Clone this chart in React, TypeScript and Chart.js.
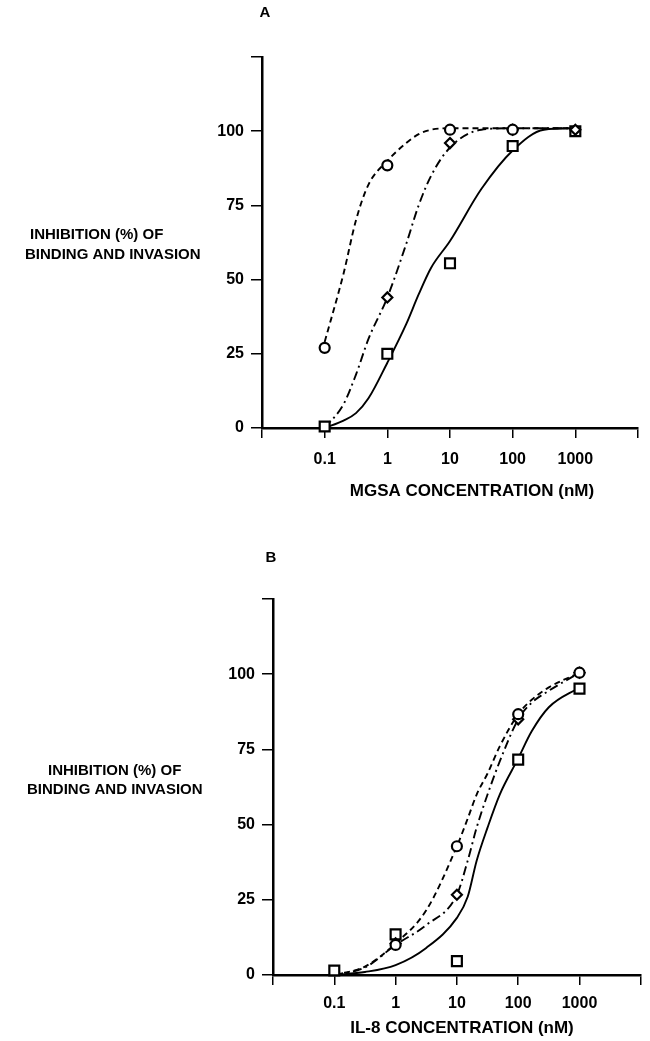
import React, { useEffect, useRef } from 'react';
import { Chart, registerables } from 'chart.js';

Chart.register(...registerables);

const FONT = '"Liberation Sans", Arial, Helvetica, sans-serif';

// Axis ticks
const xTickValues = [0.1, 1, 10, 100, 1000];
const xAxisEnds = [0.01, 10000];
const yTickValues = [0, 25, 50, 75, 100];
const yAxisTop = 125;

// Panel A: MGSA – measured points
const concA = [0.1, 1, 10, 100, 1000];
const mgsaCircles = [27, 88.5, 100.5, 100.5, null];
const mgsaDiamonds = [null, 44, 96, 100.5, 100.5];
const mgsaSquares = [0.5, 25, 55.5, 95, 100];

// Panel A: fitted curves
const curveXA = [0.1, 0.2, 0.316, 0.5, 1, 2, 3.16, 5, 10, 31.6, 100, 316, 1000];
const mgsaCircleCurve = [29, 52, 70, 82, 90, 96, 99, 100.5, 101, 101, 101, 101, 101];
const mgsaDiamondCurve = [0, 8, 18, 30, 44, 62, 75, 85, 94.5, 100.5, 101, 101, 101];
const mgsaSquareCurve = [0, 2.5, 5, 10, 22, 35, 45, 54, 63, 80.5, 93.5, 100.5, 101];

// Panel B: IL-8 – measured points
const concB = [0.1, 1, 10, 100, 1000];
const il8Circles = [null, 10, 42.8, 86.7, 100.5];
const il8Diamonds = [null, 10.5, 26.7, 85, 100.5];
const il8Squares = [1.5, 13.5, 4.6, 71.6, 95.2];

// Panel B: fitted curves
const curveXB = [0.1, 0.316, 1, 3.16, 10, 15, 21, 31.6, 50, 100, 166, 316, 1000];
const il8CircleCurve = [0, 2.8, 10.5, 21.5, 42.8, 52, 60, 67, 76, 86.7, 91.5, 95.6, 100.5];
const il8DiamondCurve = [0, 2.5, 10, 16.6, 26.7, 38, 49, 60, 71, 85, 90.5, 94.5, 100.5];
const il8SquareCurve = [0, 1, 3.3, 9, 19, 26, 38, 49, 60, 72, 81, 89, 95.6];

const yLabelLines = ['INHIBITION (%) OF', 'BINDING AND INVASION'];

type TextItem = { text: string; x: number; y: number; align: CanvasTextAlign; size: number };

type PanelSpec = {
  height: number;
  yAxisWidth: number;
  xAxisHeight: number;
  padTop: number;
  padRight: number;
  conc: number[];
  circles: (number | null)[];
  diamonds: (number | null)[];
  squares: (number | null)[];
  curveX: number[];
  circleCurve: number[];
  diamondCurve: number[];
  squareCurve: number[];
  texts: TextItem[];
  xTickPadding: number;
};

const toXY = (xs: number[], ys: (number | null)[]) =>
  xs.map((x, i) => ({ x, y: ys[i] })).filter((p) => p.y !== null);

function makeTextPlugin(items: TextItem[]) {
  return {
    id: 'panelText',
    afterDraw(chart: any) {
      const ctx = chart.ctx as CanvasRenderingContext2D;
      ctx.save();
      ctx.fillStyle = '#000';
      ctx.textBaseline = 'middle';
      for (const t of items) {
        ctx.font = `bold ${t.size}px ${FONT}`;
        ctx.textAlign = t.align;
        ctx.fillText(t.text, t.x, t.y);
      }
      ctx.restore();
    },
  };
}

function buildConfig(p: PanelSpec): any {
  const marker = (data: any[], style: string, radius: number) => ({
    type: 'line',
    data,
    showLine: false,
    pointStyle: style,
    pointRadius: radius,
    pointBackgroundColor: '#fff',
    pointBorderColor: '#000',
    pointBorderWidth: 2.2,
    borderColor: '#000',
    clip: false,
  });
  const curve = (data: any[], dash: number[]) => ({
    type: 'line',
    data,
    borderColor: '#000',
    borderWidth: 1.9,
    borderDash: dash,
    pointRadius: 0,
    cubicInterpolationMode: 'monotone',
    fill: false,
  });
  return {
    type: 'line',
    data: {
      datasets: [
        marker(toXY(p.conc, p.circles), 'circle', 5),
        marker(toXY(p.conc, p.diamonds), 'rectRot', 5),
        marker(toXY(p.conc, p.squares), 'rect', 7),
        curve(toXY(p.curveX, p.circleCurve), [6, 4]),
        curve(toXY(p.curveX, p.diamondCurve), [9, 4, 2, 4]),
        curve(toXY(p.curveX, p.squareCurve), []),
      ],
    },
    options: {
      animation: false,
      responsive: false,
      events: [],
      layout: { padding: { left: 0, top: p.padTop, right: p.padRight, bottom: 0 } },
      plugins: { legend: { display: false }, tooltip: { enabled: false } },
      scales: {
        x: {
          type: 'logarithmic',
          min: xAxisEnds[0],
          max: xAxisEnds[1],
          afterBuildTicks: (axis: any) => {
            axis.ticks = [xAxisEnds[0], ...xTickValues, xAxisEnds[1]].map((v) => ({ value: v }));
          },
          afterFit: (axis: any) => {
            axis.height = p.xAxisHeight;
          },
          ticks: {
            autoSkip: false,
            maxRotation: 0,
            minRotation: 0,
            color: '#000',
            padding: p.xTickPadding,
            font: { family: FONT, size: 16, weight: 'bold' },
            callback: (v: number) => (xTickValues.includes(v) ? String(v) : ''),
          },
          grid: {
            display: true,
            drawOnChartArea: false,
            drawTicks: true,
            tickLength: 10,
            color: '#000',
            lineWidth: 1.5,
          },
          border: { display: true, color: '#000', width: 2.5 },
        },
        y: {
          type: 'linear',
          min: 0,
          max: yAxisTop,
          afterBuildTicks: (axis: any) => {
            axis.ticks = [...yTickValues, yAxisTop].map((v) => ({ value: v }));
          },
          afterFit: (axis: any) => {
            axis.width = p.yAxisWidth;
          },
          ticks: {
            color: '#000',
            padding: 7,
            font: { family: FONT, size: 16, weight: 'bold' },
            callback: (v: number) => (yTickValues.includes(v) ? String(v) : ''),
          },
          grid: {
            display: true,
            drawOnChartArea: false,
            drawTicks: true,
            tickLength: 11,
            color: '#000',
            lineWidth: 1.5,
          },
          border: { display: true, color: '#000', width: 2.5 },
        },
      },
    },
    plugins: [makeTextPlugin(p.texts)],
  };
}

const panelA: PanelSpec = {
  height: 525,
  yAxisWidth: 262,
  xAxisHeight: 97,
  padTop: 57,
  padRight: 10,
  conc: concA,
  circles: mgsaCircles,
  diamonds: mgsaDiamonds,
  squares: mgsaSquares,
  curveX: curveXA,
  circleCurve: mgsaCircleCurve,
  diamondCurve: mgsaDiamondCurve,
  squareCurve: mgsaSquareCurve,
  xTickPadding: 12,
  texts: [
    { text: 'A', x: 265, y: 13, align: 'center', size: 15 },
    { text: yLabelLines[0], x: 30, y: 235, align: 'left', size: 15 },
    { text: yLabelLines[1], x: 25, y: 255, align: 'left', size: 15 },
    { text: 'MGSA CONCENTRATION (nM)', x: 472, y: 491, align: 'center', size: 17 },
  ],
};

const panelB: PanelSpec = {
  height: 516,
  yAxisWidth: 273,
  xAxisHeight: 66,
  padTop: 74,
  padRight: 0,
  conc: concB,
  circles: il8Circles,
  diamonds: il8Diamonds,
  squares: il8Squares,
  curveX: curveXB,
  circleCurve: il8CircleCurve,
  diamondCurve: il8DiamondCurve,
  squareCurve: il8SquareCurve,
  xTickPadding: 9,
  texts: [
    { text: 'B', x: 271, y: 33, align: 'center', size: 15 },
    { text: yLabelLines[0], x: 48, y: 246, align: 'left', size: 15 },
    { text: yLabelLines[1], x: 27, y: 265, align: 'left', size: 15 },
    { text: 'IL-8 CONCENTRATION (nM)', x: 462, y: 503, align: 'center', size: 17 },
  ],
};

function Panel({ spec, top }: { spec: PanelSpec; top: number }) {
  const ref = useRef<HTMLCanvasElement | null>(null);
  useEffect(() => {
    if (!ref.current) return;
    const chart = new Chart(ref.current, buildConfig(spec));
    return () => chart.destroy();
  }, [spec]);
  return (
    <canvas
      ref={ref}
      width={650}
      height={spec.height}
      style={{ position: 'absolute', left: 0, top, width: 650, height: spec.height, display: 'block' }}
    />
  );
}

export default function App() {
  return (
    <div style={{ position: 'absolute', left: 0, top: 0, width: 650, height: 1041, background: '#fff' }}>
      <Panel spec={panelA} top={0} />
      <Panel spec={panelB} top={525} />
    </div>
  );
}
